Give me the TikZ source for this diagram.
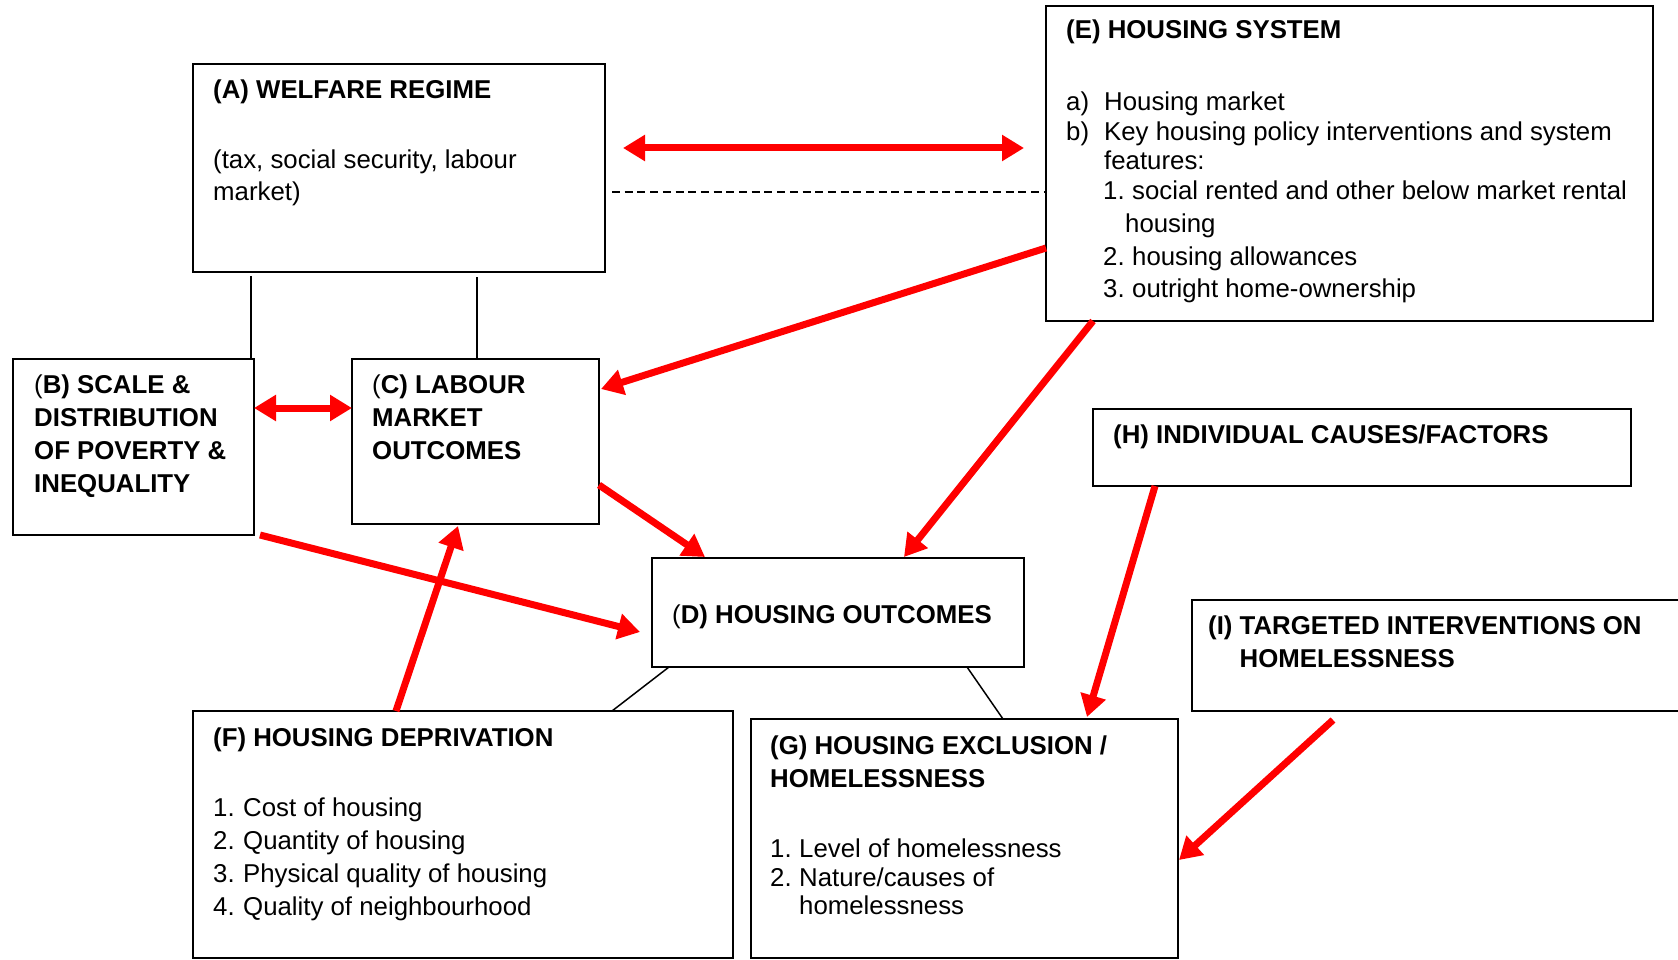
\documentclass[tikz,border=0pt]{standalone}
\usepackage{fontspec}
\setmainfont{Liberation Sans}
\usetikzlibrary{arrows.meta}
\definecolor{hsred}{HTML}{FF0000}
\newcommand\hsfont{\fontsize{25.8pt}{33pt}\selectfont}
\newcommand\hslines[1]{\begin{tabular}[t]{@{}l@{}}#1\end{tabular}}
\tikzset{
  hsbox/.style={draw=black, line width=1.8pt, anchor=north west,
                inner sep=0pt, outer sep=0pt},
  hstext/.style={anchor=base west, inner sep=0pt, font=\hsfont},
  hslink/.style={draw=black, line width=1.5pt},
  hsdash/.style={draw=black, line width=1.8pt, dash pattern=on 8pt off 4.7pt},
  hsflow/.style={draw=hsred, line width=7pt,
                 >={Triangle[length=22pt,width=25pt]}, ->},
  hsflowboth/.style={hsflow, <->},
}

\begin{document}
\begin{tikzpicture}[x=1pt,y=-1pt]
  \useasboundingbox (0,0) rectangle (1678,960);
  \clip (0,0) rectangle (1678,960);

  % boxes
  \node[hsbox, minimum width=412pt, minimum height=208pt] (A) at (193,64) {};
  \node[hsbox, minimum width=607pt, minimum height=315pt] (E) at (1046,6) {};
  \node[hsbox, minimum width=241pt, minimum height=176pt] (B) at (13,359) {};
  \node[hsbox, minimum width=247pt, minimum height=165pt] (C) at (352,359) {};
  \node[hsbox, minimum width=372pt, minimum height=109pt] (D) at (652,558) {};
  \node[hsbox, minimum width=538pt, minimum height=77pt]  (H) at (1093,409) {};
  \node[hsbox, minimum width=520pt, minimum height=111pt] (I) at (1192,600) {};
  \node[hsbox, minimum width=540pt, minimum height=247pt] (F) at (193,711) {};
  \node[hsbox, minimum width=427pt, minimum height=239pt] (G) at (751,719) {};

  % texts
  \node[hstext] (Atext) at ([shift={(20,35)}]A.north west)
    {\hslines{\textbf{(A) WELFARE REGIME}\\[37pt]
     (tax, social security, labour\\[-1pt]
     market)}};
  \node[hstext] (Etext) at ([shift={(20,33)}]E.north west)
    {\hslines{\textbf{(E) HOUSING SYSTEM}\\[39pt]
     \makebox[38pt][l]{a)}Housing market\\[-3pt]
     \makebox[38pt][l]{b)}Key housing policy interventions and system\\[-4pt]
     \hspace*{38pt}features:\\[-3pt]
     \hspace*{37pt}\makebox[29pt][l]{1.}social rented and other below market rental\\
     \hspace*{59pt}housing\\
     \hspace*{37pt}\makebox[29pt][l]{2.}housing allowances\\[-1pt]
     \hspace*{37pt}\makebox[29pt][l]{3.}outright home-ownership}};
  \node[hstext] (Btext) at ([shift={(21,34)}]B.north west)
    {\hslines{(\textbf{B) SCALE \&}\\ \textbf{DISTRIBUTION}\\
     \textbf{OF POVERTY \&}\\ \textbf{INEQUALITY}}};
  \node[hstext] (Ctext) at ([shift={(20,34)}]C.north west)
    {\hslines{(\textbf{C) LABOUR}\\ \textbf{MARKET}\\ \textbf{OUTCOMES}}};
  \node[hstext] (Dtext) at ([shift={(20,65)}]D.north west)
    {(\textbf{D) HOUSING OUTCOMES}};
  \node[hstext] (Htext) at ([shift={(20,34)}]H.north west)
    {\textbf{(H) INDIVIDUAL CAUSES/FACTORS}};
  \node[hstext] (Itext) at ([shift={(16,34)}]I.north west)
    {\hslines{\textbf{(I) TARGETED INTERVENTIONS ON}\\
     \hspace*{31.5pt}\textbf{HOMELESSNESS}}};
  \node[hstext] (Ftext) at ([shift={(20,35)}]F.north west)
    {\hslines{\textbf{(F) HOUSING DEPRIVATION}\\[37pt]
     \makebox[30pt][l]{1.}Cost of housing\\
     \makebox[30pt][l]{2.}Quantity of housing\\
     \makebox[30pt][l]{3.}Physical quality of housing\\
     \makebox[30pt][l]{4.}Quality of neighbourhood}};
  \node[hstext] (Gtext) at ([shift={(19,35)}]G.north west)
    {\hslines{\textbf{(G) HOUSING EXCLUSION /}\\ \textbf{HOMELESSNESS}\\[37pt]
     \makebox[29pt][l]{1.}Level of homelessness\\[-4pt]
     \makebox[29pt][l]{2.}Nature/causes of\\[-5pt]
     \hspace*{29pt}homelessness}};

  % plain links
  \draw[hsdash] ([shift={(7,24)}]A.east) -- ([shift={(0,28.5)}]E.west);
  \draw[hslink, shorten >=4pt] ([xshift=-3pt]B.north east) -- ([xshift=-3pt]B.north east |- A.south);
  \draw[hslink, shorten >=5pt] ([xshift=1.5pt]C.north) -- ([xshift=1.5pt]C.north |- A.south);
  \draw[hslink] ([xshift=17pt]D.south west) -- ([xshift=-121pt]F.north east);
  \draw[hslink] ([xshift=-57pt]D.south east) -- ([xshift=38.5pt]G.north);

  % red flows
  \draw[hsflowboth] ([shift={(18,-20)}]A.east) -- ([shift={(-22,-15.5)}]E.west);
  \draw[hsflowboth] ([yshift=39pt]B.east) -- ([yshift=33.5pt]C.west);
  \draw[hsflow] ([yshift=-84.5pt]E.west) -- ([shift={(2,-52.5)}]C.east);
  \draw[hsflow] ([xshift=47pt]E.south west) -- ([shift={(66,-1)}]D.north);
  \draw[hsflow] ([yshift=-43.5pt]C.east) -- ([shift={(53,-1)}]D.north west);
  \draw[hsflow] ([xshift=6pt]B.south east) -- ([shift={(-12,19.5)}]D.west);
  \draw[hsflow] ([xshift=-67pt]F.north) -- ([shift={(-17.5,2)}]C.south);
  \draw[hsflow] ([xshift=62pt]H.south west) -- ([shift={(-91,-2)}]G.north east);
  \draw[hsflow] ([shift={(141,9)}]I.south west) -- ([shift={(1,21.5)}]G.east);
\end{tikzpicture}
\end{document}
